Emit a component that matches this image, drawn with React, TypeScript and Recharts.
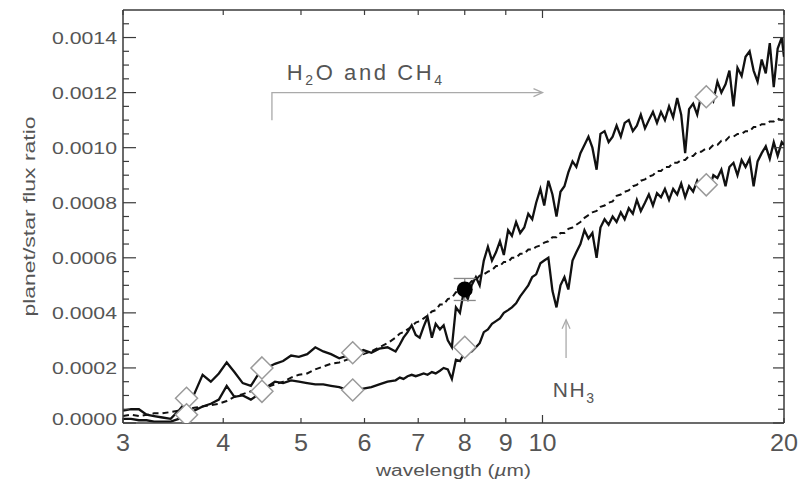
import { ComposedChart, ErrorBar, Line, ReferenceDot, ReferenceLine, Scatter, XAxis, YAxis } from "recharts"

// wavelength in micron, flux ratio in units of 1e-4
const wavelengths = [
  3.0, 3.07, 3.14, 3.21, 3.28, 3.36, 3.44, 3.52, 3.6, 3.68,
  3.77, 3.86, 3.95, 4.04, 4.13, 4.23, 4.33, 4.43, 4.53, 4.64,
  4.75, 4.86, 4.97, 5.09, 5.21, 5.33, 5.45, 5.58, 5.71, 5.84,
  5.98, 6.12, 6.26, 6.41, 6.56, 6.64, 6.71, 6.79, 6.87, 6.95,
  7.03, 7.11, 7.19, 7.28, 7.36, 7.45, 7.53, 7.62, 7.71, 7.8,
  7.89, 7.98, 8.07, 8.16, 8.26, 8.35, 8.45, 8.55, 8.65, 8.75,
  8.85, 8.95, 9.06, 9.16, 9.27, 9.38, 9.49, 9.6, 9.71, 9.82,
  9.94, 10.05, 10.17, 10.29, 10.41, 10.53, 10.65, 10.77, 10.9, 11.02,
  11.15, 11.28, 11.41, 11.54, 11.68, 11.81, 11.95, 12.09, 12.23, 12.37,
  12.52, 12.66, 12.81, 12.96, 13.11, 13.26, 13.42, 13.57, 13.73, 13.89,
  14.05, 14.21, 14.38, 14.55, 14.72, 14.89, 15.06, 15.23, 15.41, 15.59,
  15.77, 15.95, 16.14, 16.33, 16.52, 16.71, 16.91, 17.1, 17.3, 17.5,
  17.71, 17.91, 18.12, 18.33, 18.54, 18.76, 18.98, 19.2, 19.42, 19.64,
  19.87, 20.0,
]

const upperFlux = [
  0.45, 0.5, 0.5, 0.3, 0.25, 0.2, 0.15, 0.45, 0.8, 1.05,
  1.75, 1.5, 1.8, 2.2, 1.85, 1.45, 1.35, 1.8, 2.0, 2.15,
  2.25, 2.45, 2.4, 2.5, 2.75, 2.6, 2.5, 2.35, 2.45, 2.5,
  2.65, 2.55, 2.7, 2.75, 2.6, 2.85, 3.1, 3.3, 3.55, 3.2,
  3.1, 3.5, 3.85, 3.1, 3.6, 3.4, 3.55, 3.0, 2.75, 4.2,
  4.0, 4.8, 4.5, 5.0, 5.3, 5.0, 5.9, 6.4, 5.9, 6.2,
  6.6, 6.1, 7.0, 6.8, 7.3, 6.9, 7.1, 7.6, 7.4, 8.0,
  8.5, 7.9, 8.8, 8.3, 7.5, 8.4, 8.6, 9.1, 9.5, 9.3,
  9.8, 10.1, 10.4, 10.0, 9.2, 10.5, 10.6, 10.2, 10.4, 10.8,
  10.4, 10.9, 11.0, 10.6, 10.8, 11.2, 10.7, 11.0, 11.3, 10.9,
  11.3, 11.0, 11.5, 11.1, 11.8, 11.2, 9.8, 11.4, 11.6, 11.2,
  11.9, 11.7, 12.0, 11.7, 12.4, 12.0, 12.3, 12.8, 11.5, 12.9,
  12.6, 13.3, 13.5, 12.8, 12.4, 13.2, 12.7, 13.8, 12.2, 13.6,
  14.0, 13.3,
]

const modelFlux = [
  0.25, 0.3, 0.25, 0.3, 0.35, 0.35, 0.4, 0.45, 0.5, 0.55,
  0.6, 0.65, 0.7, 0.8, 0.95, 1.05, 1.15, 1.2, 1.3, 1.4,
  1.5, 1.65, 1.75, 1.8, 1.95, 2.05, 2.15, 2.2, 2.3, 2.4,
  2.5, 2.6, 2.75, 2.9, 3.1, 3.25, 3.3, 3.4, 3.5, 3.65,
  3.7, 3.8, 3.9, 4.05, 4.1, 4.3, 4.3, 4.5, 4.55, 4.75,
  4.8, 4.95, 5.0, 5.15, 5.2, 5.35, 5.4, 5.5, 5.55, 5.7,
  5.7, 5.85, 5.85, 6.0, 6.0, 6.15, 6.15, 6.3, 6.3, 6.4,
  6.45, 6.55, 6.6, 6.75, 6.75, 6.9, 6.9, 7.05, 7.1, 7.2,
  7.3, 7.45, 7.55, 7.65, 7.7, 7.85, 7.9, 8.0, 8.05, 8.25,
  8.3, 8.4, 8.45, 8.6, 8.65, 8.8, 8.85, 8.95, 9.0, 9.15,
  9.15, 9.3, 9.3, 9.45, 9.45, 9.55, 9.55, 9.7, 9.7, 9.85,
  9.85, 9.95, 9.95, 10.1, 10.1, 10.25, 10.25, 10.4, 10.4, 10.5,
  10.5, 10.6, 10.6, 10.75, 10.75, 10.85, 10.85, 10.95, 10.95, 11.05,
  11.0, 11.05,
]

const lowerFlux = [
  0.15, 0.15, 0.1, 0.1, 0.05, 0.05, 0.05, 0.15, 0.3, 0.45,
  0.6, 0.7, 0.85, 1.35, 0.95, 1.0, 0.85, 1.05, 1.3, 1.5,
  1.45, 1.55, 1.5, 1.45, 1.4, 1.4, 1.35, 1.3, 1.2, 1.15,
  1.25, 1.3, 1.4, 1.5, 1.55, 1.65, 1.6, 1.7, 1.75, 1.7,
  1.75, 1.8, 1.75, 1.85, 1.8, 1.9, 2.0, 1.95, 1.6, 2.3,
  2.25, 2.5, 2.55, 2.6, 2.75, 2.9, 3.3, 3.4, 3.6, 3.7,
  3.8, 4.0, 4.1, 4.2, 4.35, 4.6, 4.8, 5.0, 5.3, 5.4,
  5.8, 5.9, 6.0, 4.8, 4.2, 5.0, 5.3, 4.85, 5.9, 6.2,
  6.5, 7.0, 6.7, 6.9, 6.0, 7.1, 7.4, 7.2, 7.5, 7.3,
  7.65, 7.4, 7.8, 7.6, 8.1, 7.7, 8.0, 8.3, 7.9, 8.35,
  8.2, 8.5, 8.1, 8.5, 8.3, 8.7, 8.2, 8.6, 8.4, 8.8,
  8.5, 8.7, 8.5, 9.0, 8.9, 9.2, 8.6, 9.3, 9.45, 9.0,
  9.55, 9.3, 9.6, 8.6, 9.5, 9.8, 10.05, 9.6, 10.2, 9.7,
  10.2, 10.1,
]

// photometric points (open diamonds)
const diamondWavelengths = [3.6, 3.6, 4.47, 4.47, 5.8, 5.8, 8.0, 16.0, 16.0]
const diamondFlux = [0.9, 0.3, 2.0, 1.15, 2.55, 1.2, 2.75, 11.85, 8.65]

// measured point with error bar
const measuredWavelength = [8.0]
const measuredFlux = [4.85]
const measuredError = [0.4]

const xTicks = [3, 4, 5, 6, 7, 8, 9, 10, 20]
const xTickLabels = ["3", "4", "5", "6", "7", "8", "9", "10", "20"]
const yTicks = [
  0, 0.5, 1, 1.5, 2, 2.5, 3, 3.5, 4, 4.5, 5, 5.5, 6, 6.5, 7, 7.5, 8, 8.5, 9, 9.5, 10, 10.5, 11, 11.5, 12, 12.5, 13,
  13.5, 14, 14.5,
]
const yMajorTicks = [0, 2, 4, 6, 8, 10, 12, 14]
const yTickLabels = ["0.0000", "0.0002", "0.0004", "0.0006", "0.0008", "0.0010", "0.0012", "0.0014"]

const h2oArrow = [
  { x: 4.6, y: 11.0 },
  { x: 4.6, y: 12.0 },
  { x: 10.0, y: 12.0 },
]
const nh3Arrow = [
  { x: 10.7, y: 2.36 },
  { x: 10.7, y: 3.75 },
]

const toPoints = (xs: number[], ys: number[]) => xs.map((x, i) => ({ x, y: ys[i] }))

const upperData = toPoints(wavelengths, upperFlux)
const modelData = toPoints(wavelengths, modelFlux)
const lowerData = toPoints(wavelengths, lowerFlux)
const diamondData = toPoints(diamondWavelengths, diamondFlux)
const measuredData = measuredWavelength.map((x, i) => ({ x, y: measuredFlux[i], err: measuredError[i] }))

const PLOT = { left: 123, right: 784, top: 10, bottom: 423 }
const FONT = "'Liberation Sans', Arial, sans-serif"
const AXIS = "#3a3a3a"
const TEXT = "#555"
const NOTE = "#aaa"

function XTick(props: any) {
  const { x, payload } = props
  const i = xTicks.indexOf(payload.value)
  const label = xTickLabels[i]
  const len = payload.value === 10 ? 8 : 5
  return (
    <g>
      <line x1={x} x2={x} y1={PLOT.bottom} y2={PLOT.bottom - len} stroke={AXIS} strokeWidth={1.2} />
      <line x1={x} x2={x} y1={PLOT.top} y2={PLOT.top + len} stroke={AXIS} strokeWidth={1.2} />
      <text
        x={x}
        y={451}
        textAnchor="middle"
        fontSize={23}
        fontFamily={FONT}
        fill={TEXT}
        textLength={label.length * 14}
        lengthAdjust="spacingAndGlyphs"
      >
        {label}
      </text>
    </g>
  )
}

function YTick(props: any) {
  const { y, payload } = props
  const i = yMajorTicks.indexOf(payload.value)
  const major = i >= 0
  const len = major ? 13 : 6
  return (
    <g>
      <line x1={PLOT.left} x2={PLOT.left + len} y1={y} y2={y} stroke={AXIS} strokeWidth={1.2} />
      <line x1={PLOT.right} x2={PLOT.right - (major ? 11 : 6)} y1={y} y2={y} stroke={AXIS} strokeWidth={1.2} />
      {major ? (
        <text
          x={117}
          y={(payload.value === 0 ? y - 4 : y) + 6}
          textAnchor="end"
          fontSize={16}
          fontFamily={FONT}
          fill={TEXT}
          textLength={65}
          lengthAdjust="spacingAndGlyphs"
        >
          {yTickLabels[i]}
        </text>
      ) : null}
    </g>
  )
}

function Diamond(props: any) {
  const { cx, cy } = props
  const r = 11
  return (
    <polygon
      points={`${cx},${cy - r} ${cx + r},${cy} ${cx},${cy + r} ${cx - r},${cy}`}
      fill="#fff"
      stroke="#9a9a9a"
      strokeWidth={1.5}
    />
  )
}

export default function App() {
  return (
    <div style={{ position: "absolute", left: 0, top: 0, width: 803, height: 483, background: "#fff" }}>
      <ComposedChart width={803} height={483} margin={{ top: 10, right: 19, bottom: 0, left: 0 }}>
        <XAxis
          xAxisId={0}
          type="number"
          dataKey="x"
          scale="log"
          domain={[3, 20]}
          allowDataOverflow
          ticks={xTicks}
          interval={0}
          tick={<XTick />}
          tickLine={false}
          axisLine={{ stroke: AXIS, strokeWidth: 1.5 }}
          height={60}
          label={{
            content: (p: any) => (
              <text
                x={p.viewBox.x + p.viewBox.width / 2}
                y={476}
                textAnchor="middle"
                fontSize={16}
                fontFamily={FONT}
                fill={TEXT}
                textLength={155}
                lengthAdjust="spacingAndGlyphs"
              >
                wavelength (<tspan fontStyle="italic">µ</tspan>m)
              </text>
            ),
          }}
        />
        <YAxis
          yAxisId={0}
          type="number"
          dataKey="y"
          domain={[0, 15]}
          allowDataOverflow
          ticks={yTicks}
          interval={0}
          tick={<YTick />}
          tickLine={false}
          axisLine={{ stroke: AXIS, strokeWidth: 1.5 }}
          width={123}
          label={{
            content: (p: any) => {
              const cy = p.viewBox.y + p.viewBox.height / 2
              return (
                <text
                  x={35}
                  y={cy}
                  transform={`rotate(-90, 35, ${cy})`}
                  textAnchor="middle"
                  fontSize={16}
                  fontFamily={FONT}
                  fill={TEXT}
                  textLength={200}
                  lengthAdjust="spacingAndGlyphs"
                >
                  planet/star flux ratio
                </text>
              )
            },
          }}
        />
        <ReferenceLine x={20} stroke={AXIS} strokeWidth={1.5} />
        <ReferenceLine y={15} stroke={AXIS} strokeWidth={1.5} />

        <Line data={h2oArrow} dataKey="y" stroke={NOTE} strokeWidth={1.3} isAnimationActive={false}
          dot={(p: any) =>
            p.index === 2 ? (
              <path key="h" d={`M${p.cx - 9},${p.cy - 4} L${p.cx},${p.cy} L${p.cx - 9},${p.cy + 4}`} fill="none" stroke={NOTE} strokeWidth={1.3} />
            ) : (
              <g key={`h${p.index}`} />
            )
          }
        />
        <Line data={nh3Arrow} dataKey="y" stroke={NOTE} strokeWidth={1.3} isAnimationActive={false}
          dot={(p: any) =>
            p.index === 1 ? (
              <path key="n" d={`M${p.cx - 4},${p.cy + 9} L${p.cx},${p.cy} L${p.cx + 4},${p.cy + 9}`} fill="none" stroke={NOTE} strokeWidth={1.3} />
            ) : (
              <g key={`n${p.index}`} />
            )
          }
        />
        <ReferenceDot
          x={4.8}
          y={12.47}
          r={0}
          shape={(p: any) => (
            <text x={p.cx} y={p.cy} fontSize={22} fontFamily={FONT} fill={TEXT} letterSpacing={2.6}>
              H<tspan fontSize={14} dy={5}>2</tspan>
              <tspan dy={-5}>O and CH</tspan>
              <tspan fontSize={14} dy={5}>4</tspan>
            </text>
          )}
        />
        <ReferenceDot
          x={10.3}
          y={0.95}
          r={0}
          shape={(p: any) => (
            <text x={p.cx} y={p.cy} fontSize={21} fontFamily={FONT} fill={TEXT} letterSpacing={1.5}>
              NH<tspan fontSize={14} dy={6}>3</tspan>
            </text>
          )}
        />

        <Line data={lowerData} dataKey="y" type="linear" stroke="#111" strokeWidth={2.3} dot={false} isAnimationActive={false} />
        <Line
          data={modelData}
          dataKey="y"
          type="linear"
          stroke="#111"
          strokeWidth={2}
          strokeDasharray="6 4"
          dot={false}
          isAnimationActive={false}
        />
        <Line data={upperData} dataKey="y" type="linear" stroke="#111" strokeWidth={2.3} dot={false} isAnimationActive={false} />

        <Scatter data={diamondData} dataKey="y" shape={<Diamond />} isAnimationActive={false} />
        <Scatter
          data={measuredData}
          dataKey="y"
          isAnimationActive={false}
          shape={(p: any) => <circle cx={p.cx} cy={p.cy} r={8} fill="#000" />}
        >
          <ErrorBar dataKey="err" direction="y" width={11} stroke="#888" strokeWidth={1.3} />
        </Scatter>
      </ComposedChart>
    </div>
  )
}
